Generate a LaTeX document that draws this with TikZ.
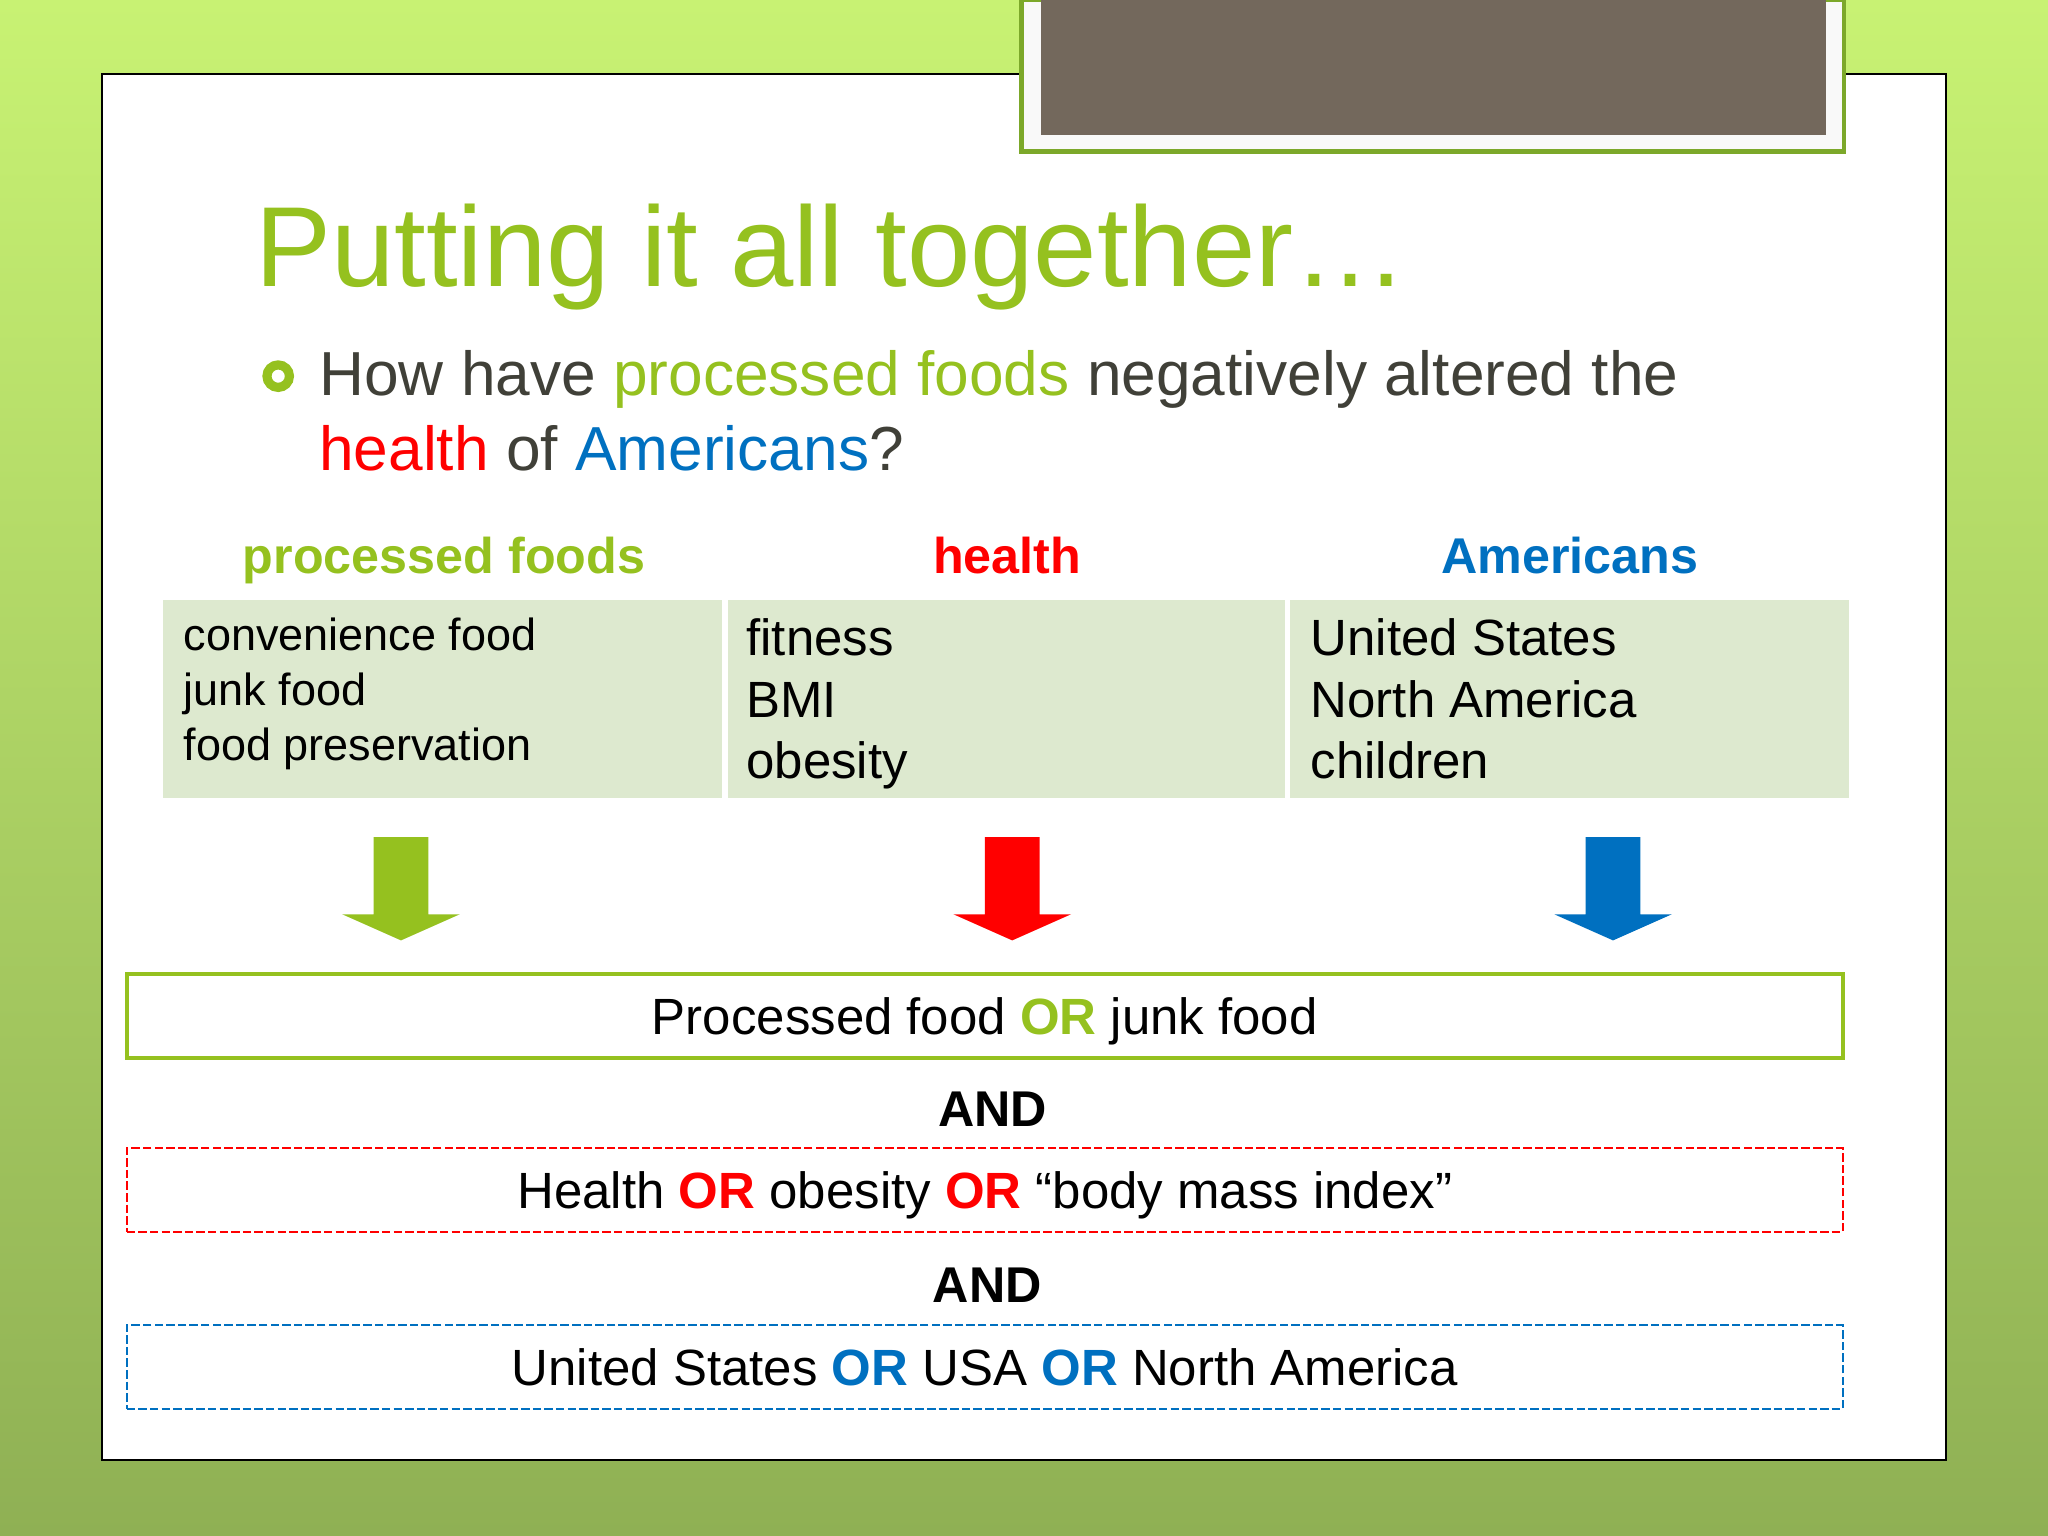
\documentclass[tikz,border=0pt]{standalone}
\usepackage{fontspec}
\setmainfont{Liberation Sans}
\usetikzlibrary{positioning}
\definecolor{apexgreen}{RGB}{149,193,31}
\definecolor{apexred}{RGB}{255,0,0}
\definecolor{apexblue}{RGB}{0,112,192}
\definecolor{darktext}{RGB}{64,64,56}
\definecolor{cellgreen}{RGB}{221,233,207}
\definecolor{framegreen}{RGB}{124,168,42}
\definecolor{photogray}{RGB}{115,104,92}
\definecolor{bgtop}{RGB}{200,242,115}
\definecolor{bgbottom}{RGB}{143,176,84}
\begin{document}
\begin{tikzpicture}[
        x=0.01306cm, y=-0.01306cm,
        every node/.style={inner sep=0pt},
        cell/.style={font=\fontsize{14.5}{17}\selectfont, anchor=base west},
        header/.style={font=\fontsize{14.3}{17}\selectfont\bfseries, anchor=base},
        querybox/.style={minimum width=17.16cm, minimum height=0.836cm,
            text depth=0pt, font=\fontsize{14.5}{17}\selectfont},
        dashbox/.style={querybox, draw=#1, line width=0.6pt,
            dash pattern=on 2.4pt off 0.9pt},
        andlabel/.style={font=\fontsize{14.3}{17}\selectfont\bfseries}]
        \useasboundingbox (0,0) rectangle (1568,1176);
        \shade[top color=bgtop, bottom color=bgbottom] (0,0) rectangle (1568,1176);

        % slide panel and photo frame
        \draw[fill=white, line width=0.6pt] (78,57) rectangle (1490,1118);
        \draw[fill=white!95!gray, draw=framegreen, line width=1.2pt] (782,0) rectangle (1412,116);
        \fill[photogray] (797,0) rectangle (1398,103);

        \node[anchor=base west, font=\fontsize{32.4}{38}\selectfont, text=apexgreen]
            (title) at (195,219) {Putting it all together…};
        \node[circle, draw=apexgreen, line width=2.6pt, minimum size=6.4pt] (bullet) at (213,288) {};
        \node[anchor=base west, font=\fontsize{17.7}{21}\selectfont, text=darktext]
            (ques1) at (244,303) {How have \textcolor{apexgreen}{processed foods} negatively altered the};
        \node[anchor=base west, font=\fontsize{17.7}{21}\selectfont, text=darktext]
            (ques2) at (244,360) {\textcolor{apexred}{health} of \textcolor{apexblue}{Americans}?};

        % concept table
        \node[header, text=apexgreen] (hfood) at (340,439) {processed foods};
        \node[header, text=apexred] (hhealth) at (771,439) {health};
        \node[header, text=apexblue] (hamer) at (1202,439) {Americans};
        \fill[cellgreen] (125,459) rectangle (553,611);
        \fill[cellgreen] (557,459) rectangle (984,611);
        \fill[cellgreen] (988,459) rectangle (1416,611);
        \foreach \t [count=\i] in {convenience food, junk food, food preservation}
            \node[cell, font=\fontsize{12.8}{15}\selectfont] (food\i) at (140,456+42*\i) {\t};
        \foreach \t [count=\i] in {fitness, BMI, obesity}
            \node[cell] (health\i) at (571,455+47*\i) {\t};
        \foreach \t [count=\i] in {United States, North America, children}
            \node[cell] (amer\i) at (1003,455+47*\i) {\t};

        % block arrows
        \foreach \x/\c in {307/apexgreen, 775/apexred, 1235/apexblue}
            \fill[\c] (\x-21,641) -- (\x+21,641) -- (\x+21,700) -- (\x+45,700)
                -- (\x,720) -- (\x-45,700) -- (\x-21,700) -- cycle;

        % search string
        \node[querybox, draw=apexgreen, line width=1.1pt] (foodq) at (754,778)
            {Processed food \textbf{\textcolor{apexgreen}{OR}} junk food};
        \node[andlabel] (and1) at (760,849) {AND};
        \node[dashbox=apexred] (healthq) at (754,911)
            {Health \textbf{\textcolor{apexred}{OR}} obesity \textbf{\textcolor{apexred}{OR}} “body mass index”};
        \node[andlabel] (and2) at (756,984) {AND};
        \node[dashbox=apexblue] (amerq) at (754,1046.5)
            {United States \textbf{\textcolor{apexblue}{OR}} USA \textbf{\textcolor{apexblue}{OR}} North America};
    \end{tikzpicture}
\end{document}
